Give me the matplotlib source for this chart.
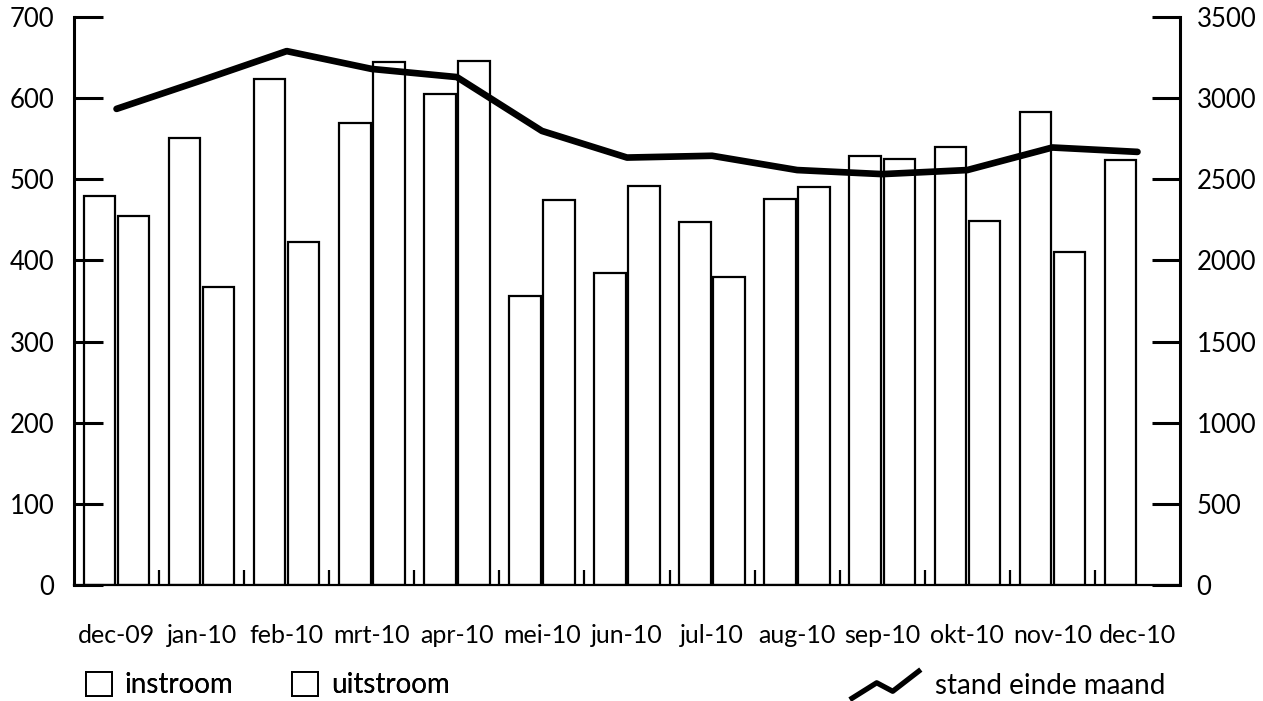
import matplotlib
matplotlib.use('Agg')
import matplotlib.pyplot as plt
import numpy as np
from matplotlib.patches import Patch
from matplotlib.lines import Line2D
from matplotlib.legend_handler import HandlerBase


# Data.
months = ['dec-09', 'jan-10', 'feb-10', 'mrt-10', 'apr-10', 'mei-10', 'jun-10',
          'jul-10', 'aug-10', 'sep-10', 'okt-10', 'nov-10', 'dec-10']
instroom = [480, 551, 624, 569, 605, 356, 385, 447, 476, 529, 540, 583, 524]
# dec-10 has no uitstroom bar in the reference
uitstroom = [455, 367, 423, 644, 646, 475, 492, 380, 490, 525, 449, 411]
stand = [2934, 3110, 3290, 3180, 3130, 2798, 2634, 2645, 2557, 2532, 2557,
         2696, 2669]
left_ticks = [0, 100, 200, 300, 400, 500, 600, 700]
right_ticks = [0, 500, 1000, 1500, 2000, 2500, 3000, 3500]

plt.rcParams['font.family'] = ['Lato', 'DejaVu Sans']


class ZigzagHandler(HandlerBase):
    """ Legend icon: a small zigzag line. """
    def create_artists(self, legend, orig_handle, xdescent, ydescent,
                       width, height, fontsize, trans):
        xs = np.array([0.0, 0.37, 0.61, 1.0]) * width - xdescent
        ys = np.array([-0.05, 0.55, 0.22, 1.0]) * height - ydescent
        return [Line2D(xs, ys, color='black', lw=3.8, transform=trans)]


fig = plt.figure(figsize=(12.63, 7.01), dpi=100)
ax = fig.add_axes([0.0586, 0.1655, 0.8757, 0.8102])

x = np.arange(len(months))
w = 0.37
ax.bar(x - 0.2, instroom, width=w, color='white', edgecolor='black',
       linewidth=1.6)
ax.bar(x[:len(uitstroom)] + 0.2, uitstroom, width=w, color='white',
       edgecolor='black', linewidth=1.6)

ax.set_xlim(-0.5, 12.5)
ax.set_ylim(0, 700)
ax.set_yticks(left_ticks)
ax.set_xticks(x)
ax.set_xticklabels(months)
ax.set_xticks(np.arange(0.5, 12, 1.0), minor=True)

ax.spines['top'].set_visible(False)
ax.spines['right'].set_visible(False)
ax.spines['left'].set_linewidth(2.2)
ax.spines['bottom'].set_linewidth(1.6)
ax.tick_params(axis='y', direction='in', length=21, width=2.2, pad=14,
               labelsize=18.5)
ax.tick_params(axis='x', which='major', length=0, pad=28, labelsize=18)
ax.tick_params(axis='x', which='minor', direction='in', length=11, width=1.6)

ax2 = ax.twinx()
ax2.plot(x, stand, color='black', lw=4.8, solid_capstyle='round',
         solid_joinstyle='round')
ax2.set_ylim(0, 3500)
ax2.set_yticks(right_ticks)
for side in ['top', 'left', 'bottom']:
    ax2.spines[side].set_visible(False)
ax2.spines['right'].set_linewidth(2.2)
ax2.tick_params(axis='y', direction='in', length=20, width=2.2, pad=12,
                labelsize=18.5)

# Legends along the bottom.
bar_handles = [Patch(facecolor='white', edgecolor='black', linewidth=1.4),
               Patch(facecolor='white', edgecolor='black', linewidth=1.4)]
leg1 = fig.legend(bar_handles, ['instroom', 'uitstroom'], loc='center left',
                  bbox_to_anchor=(0.068, 0.023), ncol=2, frameon=False,
                  fontsize=20, handlelength=0.95, handleheight=0.95,
                  columnspacing=2.1, handletextpad=0.45, borderpad=0,
                  borderaxespad=0)
fig.add_artist(leg1)
line_handle = Line2D([], [], color='black')
fig.legend([line_handle], ['stand einde maand'], loc='center right',
           bbox_to_anchor=(0.923, 0.023), frameon=False, fontsize=20,
           handlelength=2.4, handleheight=1.05, handletextpad=0.6,
           borderpad=0, borderaxespad=0,
           handler_map={Line2D: ZigzagHandler()})

fig.savefig('out.png', dpi=100)
